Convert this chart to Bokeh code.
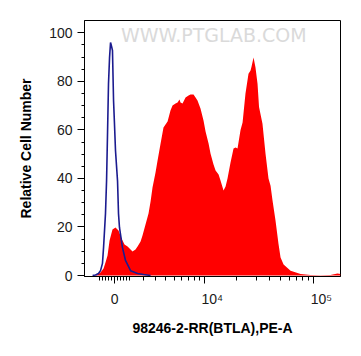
import numpy as np
from bokeh.plotting import figure
from bokeh.models import FixedTicker, Range1d
from bokeh.embed import file_html
from bokeh.resources import INLINE
from bokeh.core.properties import value

# ---- display transform (arcsinh / biexponential-like axis) ----
ASINH_COFACTOR = 3120.0
ASINH_GAIN = 0.4446


def to_display(v):
    return ASINH_GAIN * np.arcsinh(np.asarray(v, dtype=float) / ASINH_COFACTOR)


# ---- data (x in display units of the transformed PE-A channel) ----
red_x = [-0.177, -0.158, -0.130, -0.102, -0.084, -0.065, -0.046, -0.019, 0.009, 0.037,
         0.065, 0.093, 0.121, 0.149, 0.167, 0.195, 0.214, 0.242, 0.260, 0.288,
         0.316, 0.335, 0.353, 0.381, 0.400, 0.428, 0.455, 0.474, 0.493, 0.520,
         0.539, 0.567, 0.586, 0.604, 0.613, 0.632, 0.660, 0.688, 0.706, 0.734,
         0.753, 0.771, 0.799, 0.827, 0.846, 0.874, 0.892, 0.920, 0.939, 0.967,
         0.985, 1.013, 1.032, 1.050, 1.078, 1.106, 1.125, 1.143, 1.171, 1.190,
         1.217, 1.245, 1.264, 1.273, 1.292, 1.310, 1.329, 1.343, 1.375, 1.403,
         1.431, 1.450, 1.468, 1.496, 1.524, 1.543, 1.571, 1.636, 1.729, 1.822,
         1.914, 2.007, 2.072, 2.100]
red_y = [0.0, 0.4, 1.2, 2.9, 5.4, 8.2, 14.4, 19.0, 19.8, 18.5,
         15.2, 12.8, 11.9, 10.7, 9.9, 10.7, 11.9, 14.0, 16.5, 21.0,
         25.5, 30.5, 36.3, 42.4, 47.4, 54.4, 61.0, 62.2, 63.5, 68.0,
         70.0, 70.9, 71.3, 72.5, 71.3, 70.9, 73.3, 74.2, 74.6, 74.6,
         73.3, 72.1, 68.8, 63.9, 59.3, 54.4, 50.3, 45.7, 43.3, 41.6,
         39.1, 35.0, 36.7, 40.0, 46.6, 52.3, 52.7, 52.3, 60.0, 63.0,
         75.0, 83.1, 84.5, 86.0, 89.8, 85.7, 79.0, 69.4, 62.5, 50.3,
         40.0, 37.0, 31.0, 22.7, 13.0, 7.4, 4.5, 2.0, 0.6, 0.2,
         0.1, 0.2, 0.8, 0.6]

blue_x = [-0.204, -0.177, -0.149, -0.130, -0.112, -0.102, -0.084, -0.074, -0.065, -0.056,
          -0.046, -0.037, -0.028, -0.019, -0.009, 0.000, 0.009, 0.028, 0.037, 0.046,
          0.074, 0.102, 0.149, 0.214, 0.270, 0.335]
blue_y = [0.0, 0.2, 0.8, 2.0, 5.0, 11.5, 25.5, 39.0, 58.5, 79.0,
          90.0, 96.0, 94.5, 92.7, 72.0, 62.0, 51.5, 39.0, 25.5, 19.8,
          11.5, 6.2, 2.0, 0.8, 0.4, 0.0]

y_ticks = [0, 20, 40, 60, 80, 100]
y_minor_ticks = [5, 10, 15, 25, 30, 35, 45, 50, 55, 65, 70, 75, 85, 90, 95]

x_major_values = [0, 1e4, 1e5]
x_major_labels = ["0", "\u00a0\u00a0\u00a0\u00a010\u2074", "\u00a0\u00a0\u00a0\u00a010\u2075"]
x_minor_values = [-1000, -800, -600, -400, -200, 200, 400, 600, 800,
                  1000, 2000, 3000, 4000, 5000, 6000, 7000, 8000, 9000,
                  20000, 30000, 40000, 50000, 60000, 70000, 80000, 90000]

x_title = "98246-2-RR(BTLA),PE-A"
y_title = "Relative Cell Number"
watermark = "WWW.PTGLAB.COM"

FONT = "Liberation Sans"

p = figure(frame_width=256, frame_height=256,
           x_range=Range1d(-0.279, 2.100), y_range=Range1d(-0.41, 105.07),
           output_backend="svg", toolbar_location=None,
           min_border_left=84, min_border_right=13, min_border_top=20, min_border_bottom=72)
p.xgrid.visible = False
p.ygrid.visible = False
p.outline_line_color = "black"
p.outline_line_width = 1
p.outline_line_alpha = 1.0
p.background_fill_color = "white"
p.border_fill_color = "white"

# watermark
p.text(x=[0.06], y=[99.3], text=[watermark], text_font=value("DejaVu Sans"),
       text_font_size="19px", text_color="#dadada", text_align="left", text_baseline="middle")

# stained sample (filled red)
p.varea(x=red_x, y1=0, y2=red_y, fill_color="#ff0000", fill_alpha=1.0)
# control (blue line)
p.line(x=blue_x, y=blue_y, line_color="#1b1b8f", line_width=1.6)

# x axis
major_u = [float(v) for v in to_display(x_major_values)]
minor_u = [float(v) for v in to_display(x_minor_values)]
p.xaxis.ticker = FixedTicker(ticks=major_u, minor_ticks=minor_u)
p.xaxis.major_label_overrides = {u: lab for u, lab in zip(major_u, x_major_labels)}
p.xaxis.major_tick_out = 7
p.xaxis.major_tick_in = 0
p.xaxis.minor_tick_out = 4
p.xaxis.minor_tick_in = 0
p.xaxis.major_label_standoff = 7
p.xaxis.axis_label = x_title
p.xaxis.axis_label_standoff = 10

# y axis
p.yaxis.ticker = FixedTicker(ticks=y_ticks, minor_ticks=y_minor_ticks)
p.yaxis.major_tick_out = 7
p.yaxis.major_tick_in = 0
p.yaxis.minor_tick_out = 3
p.yaxis.minor_tick_in = 0
p.yaxis.major_label_standoff = 5
p.yaxis.axis_label = y_title
p.yaxis.axis_label_standoff = 12

for ax in (p.xaxis, p.yaxis):
    ax.axis_line_color = "black"
    ax.major_tick_line_color = "black"
    ax.minor_tick_line_color = "black"
    ax.major_label_text_font = FONT
    ax.major_label_text_font_size = "14px"
    ax.major_label_text_color = "#1a1a1a"
    ax.axis_label_text_font = FONT
    ax.axis_label_text_font_size = "14px"
    ax.axis_label_text_font_style = "bold"
    ax.axis_label_text_color = "black"

open("out.html", "w").write(file_html(p, INLINE))
